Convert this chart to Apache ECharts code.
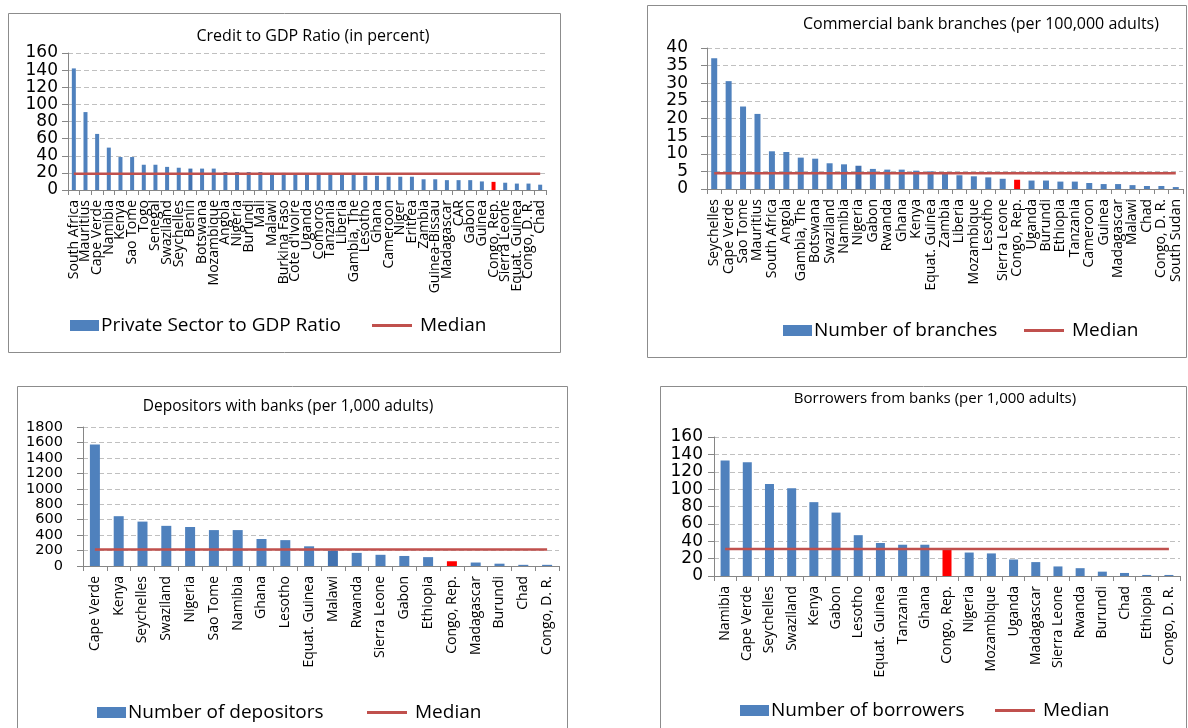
<!DOCTYPE html>
<html>
<head>
<meta charset="utf-8">
<script src="https://cdn.jsdelivr.net/npm/echarts@6/dist/echarts.min.js"></script>
<style>
  html, body { margin: 0; padding: 0; background: #fff; }
  #chart { width: 1188px; height: 728px; }
</style>
</head>
<body>
<div id="chart"></div>
<script>
// ---- Credit to GDP ratio (percent) ----
const creditCountries = ['South Africa', 'Mauritius', 'Cape Verde', 'Namibia', 'Kenya', 'Sao Tome', 'Togo', 'Senegal',
  'Swaziland', 'Seychelles', 'Benin', 'Botswana', 'Mozambique', 'Angola', 'Nigeria', 'Burundi', 'Mali', 'Malawi',
  'Burkina Faso', "Cote d'Ivoire", 'Uganda', 'Comoros', 'Tanzania', 'Liberia', 'Gambia, The', 'Lesotho', 'Ghana',
  'Cameroon', 'Niger', 'Eritrea', 'Zambia', 'Guinea-Bissau', 'Madagascar', 'CAR', 'Gabon', 'Guinea', 'Congo, Rep.',
  'Sierra Leone', 'Equat. Guinea', 'Congo, D. R.', 'Chad'];
const creditValues = [142, 91, 65.5, 49.5, 38.5, 38.5, 29.5, 29.5, 27, 26, 25, 25, 25, 21, 21, 21, 21, 20, 20, 19.5,
  19, 19, 19, 18.5, 18.5, 16.5, 16.5, 15.5, 15.5, 15.5, 12.5, 12.5, 11.5, 11.5, 11.5, 10, 9.5, 8.5, 7.5, 7.5, 6.2];
const creditMedian = 19;

// ---- Commercial bank branches (per 100,000 adults) ----
const branchCountries = ['Seychelles', 'Cape Verde', 'Sao Tome', 'Mauritius', 'South Africa', 'Angola', 'Gambia, The',
  'Botswana', 'Swaziland', 'Namibia', 'Nigeria', 'Gabon', 'Rwanda', 'Ghana', 'Kenya', 'Equat. Guinea', 'Zambia',
  'Liberia', 'Mozambique', 'Lesotho', 'Sierra Leone', 'Congo, Rep.', 'Uganda', 'Burundi', 'Ethiopia', 'Tanzania',
  'Cameroon', 'Guinea', 'Madagascar', 'Malawi', 'Chad', 'Congo, D. R.', 'South Sudan'];
const branchValues = [37.1, 30.6, 23.4, 21.3, 10.7, 10.5, 8.9, 8.6, 7.3, 7.0, 6.6, 5.7, 5.5, 5.5, 5.2, 5.0, 4.5,
  3.9, 3.6, 3.3, 2.9, 2.6, 2.4, 2.4, 2.1, 2.1, 1.7, 1.4, 1.4, 1.1, 0.85, 0.85, 0.55];
const branchMedian = 4.5;

// ---- Depositors with banks (per 1,000 adults) ----
const depositorCountries = ['Cape Verde', 'Kenya', 'Seychelles', 'Swaziland', 'Nigeria', 'Sao Tome', 'Namibia', 'Ghana',
  'Lesotho', 'Equat. Guinea', 'Malawi', 'Rwanda', 'Sierra Leone', 'Gabon', 'Ethiopia', 'Congo, Rep.', 'Madagascar',
  'Burundi', 'Chad', 'Congo, D. R.'];
const depositorValues = [1575, 645, 575, 520, 505, 465, 465, 350, 335, 255, 200, 170, 145, 130, 115, 60, 45, 30, 15, 15];
const depositorMedian = 215;

// ---- Borrowers from banks (per 1,000 adults) ----
const borrowerCountries = ['Namibia', 'Cape Verde', 'Seychelles', 'Swaziland', 'Kenya', 'Gabon', 'Lesotho',
  'Equat. Guinea', 'Tanzania', 'Ghana', 'Congo, Rep.', 'Nigeria', 'Mozambique', 'Uganda', 'Madagascar',
  'Sierra Leone', 'Rwanda', 'Burundi', 'Chad', 'Ethiopia', 'Congo, D. R.'];
const borrowerValues = [133, 131, 106, 101, 85, 73, 47, 38, 36, 36, 31, 27, 26, 19, 16, 11, 9, 5, 3.5, 1.2, 1.2];
const borrowerMedian = 31;

// ---- axis scales ----
const creditAxis = { max: 160, interval: 20 };
const branchAxis = { max: 40, interval: 5 };
const depositorAxis = { max: 1800, interval: 200 };
const borrowerAxis = { max: 160, interval: 20 };

const FONT = "'Open Sans', sans-serif";
const NUM_FONT = "'DejaVu Sans', sans-serif";
const BLUE = '#4F81BD';
const MEDIAN_RED = '#C0504D';
const FOCUS = 'Congo, Rep.';

const panels = [
  {
    cats: creditCountries, vals: creditValues, median: creditMedian, axis: creditAxis,
    name: 'Private Sector to GDP Ratio', title: 'Credit to GDP Ratio (in percent)', titleFont: 16,
    titleX: 313, titleY: 28, grid: { left: 68, top: 53, width: 478, height: 137 },
    barWidth: 4, yMargin: 10, yFont: 17, marked: 'Benin',
    box: [8, 13, 552, 339], legendY: 328, barLegendX: 70, medLegendX: 372
  },
  {
    cats: branchCountries, vals: branchValues, median: branchMedian, axis: branchAxis,
    name: 'Number of branches', title: 'Commercial bank branches (per 100,000 adults)', titleFont: 16,
    titleX: 981, titleY: 16, grid: { left: 707, top: 48, width: 476, height: 141 },
    barWidth: 6, yMargin: 19, yFont: 17, marked: 'Nigeria',
    box: [647, 5, 539, 352], legendY: 333, barLegendX: 783, medLegendX: 1024
  },
  {
    cats: depositorCountries, vals: depositorValues, median: depositorMedian, axis: depositorAxis,
    name: 'Number of depositors', title: 'Depositors with banks (per 1,000 adults)', titleFont: 15.5,
    titleX: 288, titleY: 399, grid: { left: 83, top: 427, width: 476, height: 139 },
    barWidth: 10, yMargin: 20, yFont: 14.5, marked: 'Malawi',
    box: [17, 386, 550, 360], legendY: 715, barLegendX: 97, medLegendX: 367
  },
  {
    cats: borrowerCountries, vals: borrowerValues, median: borrowerMedian, axis: borrowerAxis,
    name: 'Number of borrowers', title: 'Borrowers from banks (per 1,000 adults)', titleFont: 15,
    titleX: 935, titleY: 391, grid: { left: 714, top: 437, width: 466, height: 139 },
    barWidth: 9, yMargin: 11, yFont: 17, marked: null,
    box: [660, 386, 526, 360], legendY: 713, barLegendX: 740, medLegendX: 995
  }
];

const option = {
  animation: false,
  backgroundColor: '#fff',
  title: [], legend: [], grid: [], xAxis: [], yAxis: [], series: [], graphic: []
};

panels.forEach((p, i) => {
  option.graphic.push({
    type: 'rect', silent: true, z: -1,
    shape: { x: p.box[0] + 0.5, y: p.box[1] + 0.5, width: p.box[2], height: p.box[3] },
    style: { fill: 'none', stroke: '#8c8c8c', lineWidth: 1 }
  });

  option.title.push({
    text: p.title, left: p.titleX, top: p.titleY, textAlign: 'center', padding: 0,
    textStyle: { fontFamily: FONT, fontSize: p.titleFont, fontWeight: 'normal', color: '#000' }
  });

  option.grid.push(Object.assign({ containLabel: false, outerBoundsMode: 'none' }, p.grid));

  option.xAxis.push({
    type: 'category', gridIndex: i, data: p.cats,
    axisLine: { show: true, lineStyle: { color: '#868686', width: 1 } },
    axisTick: { show: true, length: 5, lineStyle: { color: '#868686' } },
    axisLabel: { interval: 0, rotate: 90, margin: 10, fontFamily: FONT, fontSize: 14, color: '#000' }
  });

  option.yAxis.push({
    type: 'value', gridIndex: i, min: 0, max: p.axis.max, interval: p.axis.interval,
    axisLine: { show: true, lineStyle: { color: '#868686', width: 1 } },
    axisTick: { show: true, length: 6, lineStyle: { color: '#868686' } },
    splitLine: { show: true, lineStyle: { color: '#C0C0C0', type: [5, 3], width: 1 } },
    axisLabel: {
      margin: p.yMargin, fontFamily: NUM_FONT, fontSize: p.yFont, lineHeight: p.yFont, color: '#000',
      showMinLabel: true, showMaxLabel: true, hideOverlap: false,
      formatter: (v) => String(v)
    }
  });

  option.series.push({
    type: 'bar', name: p.name, xAxisIndex: i, yAxisIndex: i, barWidth: p.barWidth,
    itemStyle: { color: BLUE }, z: 2,
    data: p.vals.map((v, k) => {
      const c = p.cats[k];
      if (c === FOCUS) {
        return { value: v, itemStyle: { color: '#FF0000', borderColor: '#FF0000', borderWidth: 2 } };
      }
      if (c === p.marked) {
        return { value: v, itemStyle: { color: '#4272B0', borderColor: '#4272B0', borderWidth: 2 } };
      }
      return v;
    })
  });

  option.series.push({
    type: 'line', name: 'Median', xAxisIndex: i, yAxisIndex: i, z: 3,
    symbol: 'none', color: MEDIAN_RED,
    lineStyle: { color: MEDIAN_RED, width: 2.5 },
    data: [[p.cats[0], p.median], [p.cats[p.cats.length - 1], p.median]]
  });

  option.legend.push({
    left: p.barLegendX, top: p.legendY - 12, padding: 0, selectedMode: false,
    itemWidth: 29, itemHeight: 11, itemGap: 0,
    data: [{ name: p.name, icon: 'rect' }],
    textStyle: { fontFamily: FONT, fontSize: 19, color: '#000', padding: [0, 0, 0, -3] }
  });
  option.legend.push({
    left: p.medLegendX, top: p.legendY - 12, padding: 0, selectedMode: false,
    itemWidth: 40, itemHeight: 3, itemGap: 0,
    data: [{ name: 'Median', icon: 'rect' }],
    textStyle: { fontFamily: FONT, fontSize: 19, color: '#000', padding: [0, 0, 0, 3] }
  });
});

const chart = echarts.init(document.getElementById('chart'), null, { renderer: 'canvas' });
chart.setOption(option);
</script>
</body>
</html>
